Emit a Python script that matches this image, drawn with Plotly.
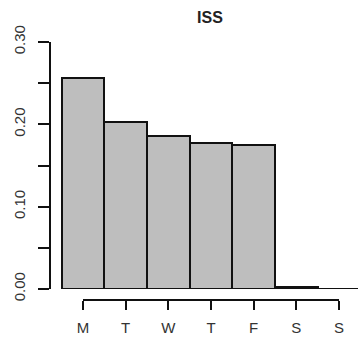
import plotly.graph_objects as go

days = ["M", "T", "W", "T", "F", "S", "S"]
values = [0.256, 0.2034, 0.1864, 0.1772, 0.1748, 0.0025, 0.0004]
title_text = "ISS"
y_tick_vals = [0.0, 0.1, 0.2, 0.3]

xs = list(range(len(days)))

W, H = 358, 337
ml, mr, mt, mb = 50, 0, 42, 37
plot_w = W - ml - mr
plot_h = H - mt - mb
px_per_cat = 42.67
x0 = -(83 - ml) / px_per_cat
x1 = x0 + plot_w / px_per_cat
ydom0 = (300 - 289) / plot_h

fig = go.Figure()
fig.add_trace(go.Bar(
    x=xs, y=values, width=1.0,
    marker=dict(color="#bebebe", line=dict(color="#111111", width=2)),
    showlegend=False,
))

fig.update_layout(
    width=W, height=H,
    margin=dict(l=ml, r=mr, t=mt, b=mb, pad=0),
    paper_bgcolor="white", plot_bgcolor="white",
    bargap=0,
    font=dict(family="Liberation Sans, Arial, sans-serif", size=15, color="#333333"),
    title=dict(text="<b>" + title_text + "</b>", x=210 / W, xref="container", xanchor="center",
               y=1 - 17 / H, yref="container", yanchor="middle",
               font=dict(size=16, color="#222222")),
    xaxis=dict(
        domain=[0, 1], range=[x0, x1], anchor="free", position=0,
        tickmode="array", tickvals=xs, ticktext=days,
        ticks="outside", ticklen=9, tickwidth=2, tickcolor="#111111",
        showline=False, showgrid=False, zeroline=False,
        tickfont=dict(size=15, color="#333333"),
        ticklabelstandoff=5,
    ),
    yaxis=dict(
        domain=[ydom0, 1], range=[0, 0.30], anchor="free", position=0,
        tickmode="array", tickvals=y_tick_vals, tickformat=".2f",
        ticks="outside", ticklen=11, tickwidth=2, tickcolor="#111111",
        minor=dict(dtick=0.05, tick0=0, ticks="outside", ticklen=11, tickwidth=2, tickcolor="#111111"),
        showline=True, linewidth=2, linecolor="#111111",
        showgrid=False, zeroline=False, tickangle=-90,
        tickfont=dict(size=15, color="#333333"),
        ticklabelstandoff=7,
    ),
    shapes=[dict(type="line", xref="x", yref="paper", x0=0, x1=len(days) - 1, y0=0, y1=0,
                 line=dict(color="#111111", width=2))],
)

fig.write_html("out.html")
